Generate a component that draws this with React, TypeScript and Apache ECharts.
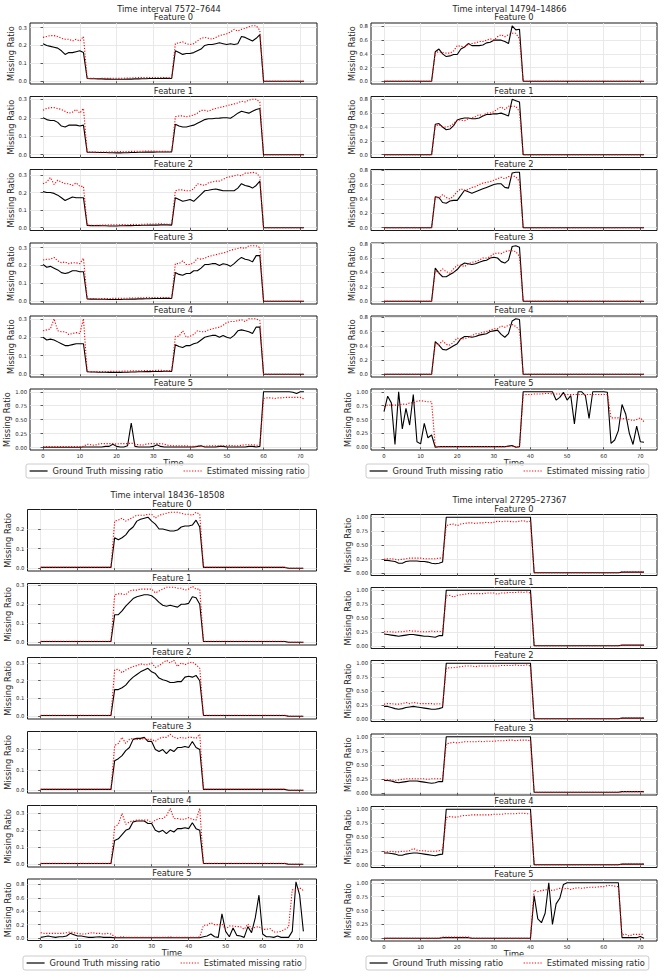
import { useEffect, useRef } from 'react';
import * as echarts from 'echarts';

// ---------- labels ----------
const intervalTitles = ['Time interval 7572–7644', 'Time interval 14794–14866', 'Time interval 18436–18508', 'Time interval 27295–27367'];
const featureTitles = ['Feature 0', 'Feature 1', 'Feature 2', 'Feature 3', 'Feature 4', 'Feature 5'];
const xTicks = [0, 10, 20, 30, 40, 50, 60, 70];
const GT_NAME = 'Ground Truth missing ratio';
const EST_NAME = 'Estimated missing ratio';

// ---------- Time interval 7572–7644 ----------
const tl_f0_gt = [
  0.21, 0.2, 0.195, 0.19, 0.185, 0.17, 0.15, 0.16, 0.16, 0.165, 0.17, 0.16,
  0.015, 0.014, 0.014, 0.013, 0.013, 0.012, 0.012, 0.011, 0.011, 0.011, 0.011, 0.012,
  0.012, 0.013, 0.013, 0.014, 0.014, 0.015, 0.015, 0.015, 0.015, 0.016, 0.016, 0.015,
  0.17, 0.16, 0.15, 0.155, 0.155, 0.16, 0.17, 0.18, 0.2, 0.205, 0.205, 0.21,
  0.215, 0.21, 0.205, 0.21, 0.205, 0.21, 0.25, 0.245, 0.235, 0.225, 0.24, 0.26,
  0, 0, 0, 0, 0, 0, 0, 0, 0, 0, 0, 0];
const tl_f0_est = [
  0.245, 0.25, 0.255, 0.255, 0.25, 0.24, 0.235, 0.235, 0.225, 0.235, 0.225, 0.25,
  0.017, 0.016, 0.016, 0.015, 0.016, 0.016, 0.016, 0.017, 0.017, 0.016, 0.017, 0.018,
  0.018, 0.019, 0.02, 0.02, 0.021, 0.021, 0.02, 0.021, 0.02, 0.02, 0.019, 0.018,
  0.21, 0.215, 0.22, 0.21, 0.205, 0.21, 0.225, 0.24, 0.245, 0.24, 0.235, 0.245,
  0.255, 0.26, 0.265, 0.275, 0.29, 0.28, 0.29, 0.295, 0.305, 0.31, 0.31, 0.285,
  0, 0, 0, 0, 0, 0, 0, 0, 0, 0, 0, 0];
const tl_f1_gt = [
  0.2, 0.19, 0.185, 0.185, 0.175, 0.155, 0.15, 0.16, 0.16, 0.16, 0.155, 0.16,
  0.014, 0.013, 0.013, 0.012, 0.012, 0.012, 0.011, 0.011, 0.01, 0.01, 0.011, 0.011,
  0.012, 0.012, 0.013, 0.013, 0.014, 0.014, 0.014, 0.015, 0.015, 0.015, 0.015, 0.015,
  0.165, 0.155, 0.15, 0.15, 0.155, 0.16, 0.17, 0.18, 0.19, 0.195, 0.195, 0.197,
  0.198, 0.2, 0.2, 0.197, 0.21, 0.225, 0.235, 0.23, 0.225, 0.235, 0.245, 0.25,
  0, 0, 0, 0, 0, 0, 0, 0, 0, 0, 0, 0];
const tl_f1_est = [
  0.24, 0.25, 0.255, 0.255, 0.25, 0.245, 0.235, 0.225, 0.23, 0.245, 0.225, 0.25,
  0.015, 0.015, 0.014, 0.014, 0.015, 0.015, 0.015, 0.016, 0.016, 0.017, 0.016, 0.017,
  0.018, 0.018, 0.019, 0.019, 0.02, 0.02, 0.02, 0.019, 0.019, 0.018, 0.018, 0.017,
  0.205, 0.21, 0.21, 0.205, 0.21, 0.215, 0.225, 0.24, 0.24, 0.235, 0.245, 0.25,
  0.255, 0.26, 0.265, 0.27, 0.275, 0.28, 0.29, 0.285, 0.295, 0.3, 0.3, 0.285,
  0, 0, 0, 0, 0, 0, 0, 0, 0, 0, 0, 0];
const tl_f2_gt = [
  0.205, 0.2, 0.2, 0.195, 0.185, 0.17, 0.155, 0.165, 0.175, 0.17, 0.17, 0.17,
  0.013, 0.012, 0.012, 0.012, 0.011, 0.011, 0.01, 0.01, 0.01, 0.011, 0.011, 0.012,
  0.012, 0.013, 0.013, 0.014, 0.014, 0.015, 0.015, 0.015, 0.016, 0.016, 0.016, 0.015,
  0.17, 0.16, 0.15, 0.155, 0.16, 0.15, 0.17, 0.19, 0.21, 0.213, 0.217, 0.22,
  0.215, 0.21, 0.21, 0.21, 0.21, 0.225, 0.25, 0.24, 0.235, 0.225, 0.24, 0.265,
  0, 0, 0, 0, 0, 0, 0, 0, 0, 0, 0, 0];
const tl_f2_est = [
  0.25, 0.26, 0.285, 0.245, 0.27, 0.26, 0.25, 0.25, 0.24, 0.255, 0.235, 0.235,
  0.016, 0.014, 0.013, 0.014, 0.015, 0.015, 0.016, 0.016, 0.017, 0.017, 0.018, 0.016,
  0.018, 0.019, 0.018, 0.02, 0.02, 0.021, 0.021, 0.022, 0.022, 0.021, 0.02, 0.02,
  0.21, 0.215, 0.215, 0.21, 0.21, 0.22, 0.25, 0.245, 0.24, 0.255, 0.26, 0.265,
  0.265, 0.275, 0.285, 0.29, 0.295, 0.3, 0.295, 0.31, 0.31, 0.315, 0.31, 0.29,
  0, 0, 0, 0, 0, 0, 0, 0, 0, 0, 0, 0];
const tl_f3_gt = [
  0.205, 0.19, 0.195, 0.185, 0.175, 0.16, 0.155, 0.16, 0.17, 0.17, 0.165, 0.165,
  0.013, 0.012, 0.012, 0.011, 0.011, 0.011, 0.01, 0.01, 0.01, 0.01, 0.011, 0.011,
  0.012, 0.012, 0.013, 0.013, 0.014, 0.014, 0.015, 0.015, 0.015, 0.016, 0.016, 0.015,
  0.16, 0.15, 0.145, 0.155, 0.155, 0.17, 0.17, 0.185, 0.205, 0.205, 0.21, 0.21,
  0.2, 0.21, 0.205, 0.195, 0.21, 0.23, 0.245, 0.235, 0.23, 0.22, 0.255, 0.255,
  0, 0, 0, 0, 0, 0, 0, 0, 0, 0, 0, 0];
const tl_f3_est = [
  0.23, 0.235, 0.235, 0.245, 0.225, 0.215, 0.22, 0.21, 0.215, 0.215, 0.21, 0.24,
  0.015, 0.014, 0.014, 0.014, 0.015, 0.015, 0.015, 0.016, 0.016, 0.016, 0.017, 0.017,
  0.018, 0.018, 0.019, 0.019, 0.02, 0.02, 0.021, 0.021, 0.021, 0.02, 0.02, 0.019,
  0.21, 0.21, 0.225, 0.205, 0.205, 0.215, 0.24, 0.235, 0.24, 0.25, 0.255, 0.26,
  0.265, 0.27, 0.275, 0.285, 0.29, 0.295, 0.3, 0.295, 0.31, 0.31, 0.31, 0.3,
  0, 0, 0, 0, 0, 0, 0, 0, 0, 0, 0, 0];
const tl_f4_gt = [
  0.2, 0.185, 0.19, 0.185, 0.175, 0.165, 0.155, 0.155, 0.16, 0.165, 0.165, 0.165,
  0.013, 0.012, 0.012, 0.011, 0.011, 0.011, 0.01, 0.01, 0.01, 0.01, 0.011, 0.011,
  0.012, 0.012, 0.013, 0.013, 0.014, 0.014, 0.015, 0.015, 0.015, 0.016, 0.016, 0.015,
  0.16, 0.15, 0.145, 0.155, 0.155, 0.165, 0.17, 0.185, 0.2, 0.205, 0.21, 0.21,
  0.2, 0.21, 0.2, 0.195, 0.21, 0.235, 0.24, 0.235, 0.23, 0.22, 0.255, 0.255,
  0, 0, 0, 0, 0, 0, 0, 0, 0, 0, 0, 0];
const tl_f4_est = [
  0.235, 0.24, 0.245, 0.3, 0.235, 0.23, 0.23, 0.215, 0.22, 0.225, 0.22, 0.3,
  0.015, 0.014, 0.014, 0.014, 0.015, 0.015, 0.015, 0.016, 0.016, 0.016, 0.017, 0.017,
  0.018, 0.018, 0.019, 0.019, 0.02, 0.02, 0.02, 0.021, 0.021, 0.02, 0.02, 0.019,
  0.205, 0.205, 0.235, 0.2, 0.205, 0.215, 0.235, 0.23, 0.23, 0.24, 0.245, 0.25,
  0.255, 0.265, 0.28, 0.285, 0.285, 0.29, 0.295, 0.285, 0.3, 0.3, 0.3, 0.29,
  0, 0, 0, 0, 0, 0, 0, 0, 0, 0, 0, 0];
const tl_f5_gt = [
  0.005, 0.005, 0.005, 0.005, 0.005, 0.005, 0.005, 0.005, 0.005, 0.005, 0.005, 0.01,
  0.01, 0.01, 0.01, 0.01, 0.01, 0.02, 0.02, 0.06, 0.02, 0.01, 0.01, 0.03,
  0.44, 0.02, 0.01, 0.01, 0.01, 0.01, 0.02, 0.05, 0.02, 0.01, 0.01, 0.01,
  0.01, 0.01, 0.01, 0.01, 0.01, 0.01, 0.02, 0.03, 0.01, 0.01, 0.01, 0.01,
  0.02, 0.02, 0.01, 0.01, 0.01, 0.01, 0.01, 0.01, 0.02, 0.02, 0.01, 0.02,
  1, 1, 1, 1, 1, 1, 1, 1, 0.99, 0.97, 1, 1];
const tl_f5_est = [
  0.015, 0.015, 0.015, 0.015, 0.015, 0.015, 0.015, 0.015, 0.015, 0.015, 0.015, 0.02,
  0.06, 0.05, 0.04, 0.06, 0.07, 0.07, 0.07, 0.07, 0.06, 0.07, 0.07, 0.07,
  0.08, 0.06, 0.05, 0.04, 0.06, 0.07, 0.07, 0.07, 0.07, 0.06, 0.04, 0.03,
  0.03, 0.03, 0.03, 0.03, 0.02, 0.02, 0.02, 0.03, 0.02, 0.03, 0.03, 0.03,
  0.03, 0.03, 0.03, 0.04, 0.03, 0.03, 0.04, 0.05, 0.05, 0.05, 0.04, 0.04,
  0.88, 0.89, 0.89, 0.88, 0.89, 0.89, 0.9, 0.9, 0.9, 0.9, 0.9, 0.87];

// ---------- Time interval 14794–14866 ----------
const tr_f0_gt = [
  0, 0, 0, 0, 0, 0, 0, 0, 0, 0, 0, 0,
  0, 0, 0.43, 0.47, 0.4, 0.36, 0.37, 0.39, 0.39, 0.47, 0.5, 0.55,
  0.52, 0.52, 0.52, 0.53, 0.56, 0.57, 0.6, 0.6, 0.6, 0.58, 0.55, 0.81,
  0.75, 0.76, 0, 0, 0, 0, 0, 0, 0, 0, 0, 0,
  0, 0, 0, 0, 0, 0, 0, 0, 0, 0, 0, 0,
  0, 0, 0, 0, 0, 0, 0, 0, 0, 0, 0, 0];
const tr_f0_est = [
  0, 0, 0, 0, 0, 0, 0, 0, 0, 0, 0, 0,
  0, 0, 0.42, 0.43, 0.42, 0.41, 0.41, 0.44, 0.52, 0.51, 0.5, 0.54,
  0.55, 0.56, 0.58, 0.58, 0.6, 0.62, 0.6, 0.65, 0.68, 0.65, 0.68, 0.7,
  0.7, 0.62, 0, 0, 0, 0, 0, 0, 0, 0, 0, 0,
  0, 0, 0, 0, 0, 0, 0, 0, 0, 0, 0, 0,
  0, 0, 0, 0, 0, 0, 0, 0, 0, 0, 0, 0];
const tr_f1_gt = [
  0, 0, 0, 0, 0, 0, 0, 0, 0, 0, 0, 0,
  0, 0, 0.44, 0.45, 0.4, 0.36, 0.37, 0.42, 0.5, 0.52, 0.53, 0.53,
  0.52, 0.52, 0.53, 0.56, 0.58, 0.58, 0.59, 0.59, 0.6, 0.58, 0.56, 0.8,
  0.78, 0.76, 0, 0, 0, 0, 0, 0, 0, 0, 0, 0,
  0, 0, 0, 0, 0, 0, 0, 0, 0, 0, 0, 0,
  0, 0, 0, 0, 0, 0, 0, 0, 0, 0, 0, 0];
const tr_f1_est = [
  0, 0, 0, 0, 0, 0, 0, 0, 0, 0, 0, 0,
  0, 0, 0.42, 0.43, 0.4, 0.4, 0.41, 0.45, 0.5, 0.5, 0.49, 0.52,
  0.53, 0.55, 0.58, 0.56, 0.6, 0.6, 0.62, 0.66, 0.69, 0.65, 0.7, 0.7,
  0.7, 0.62, 0, 0, 0, 0, 0, 0, 0, 0, 0, 0,
  0, 0, 0, 0, 0, 0, 0, 0, 0, 0, 0, 0,
  0, 0, 0, 0, 0, 0, 0, 0, 0, 0, 0, 0];
const tr_f2_gt = [
  0, 0, 0, 0, 0, 0, 0, 0, 0, 0, 0, 0,
  0, 0, 0.43, 0.42, 0.35, 0.34, 0.37, 0.38, 0.38, 0.45, 0.52, 0.5,
  0.48, 0.5, 0.52, 0.54, 0.56, 0.58, 0.6, 0.61, 0.61, 0.56, 0.55, 0.76,
  0.77, 0.77, 0, 0, 0, 0, 0, 0, 0, 0, 0, 0,
  0, 0, 0, 0, 0, 0, 0, 0, 0, 0, 0, 0,
  0, 0, 0, 0, 0, 0, 0, 0, 0, 0, 0, 0];
const tr_f2_est = [
  0, 0, 0, 0, 0, 0, 0, 0, 0, 0, 0, 0,
  0, 0, 0.43, 0.41, 0.46, 0.42, 0.4, 0.44, 0.5, 0.54, 0.52, 0.53,
  0.56, 0.57, 0.6, 0.62, 0.63, 0.64, 0.66, 0.68, 0.7, 0.68, 0.71, 0.72,
  0.71, 0.64, 0, 0, 0, 0, 0, 0, 0, 0, 0, 0,
  0, 0, 0, 0, 0, 0, 0, 0, 0, 0, 0, 0,
  0, 0, 0, 0, 0, 0, 0, 0, 0, 0, 0, 0];
const tr_f3_gt = [
  0, 0, 0, 0, 0, 0, 0, 0, 0, 0, 0, 0,
  0, 0, 0.46, 0.39, 0.34, 0.34, 0.37, 0.4, 0.44, 0.5, 0.53, 0.52,
  0.51, 0.52, 0.54, 0.56, 0.57, 0.6, 0.61, 0.6, 0.55, 0.53, 0.57, 0.76,
  0.77, 0.75, 0, 0, 0, 0, 0, 0, 0, 0, 0, 0,
  0, 0, 0, 0, 0, 0, 0, 0, 0, 0, 0, 0,
  0, 0, 0, 0, 0, 0, 0, 0, 0, 0, 0, 0];
const tr_f3_est = [
  0, 0, 0, 0, 0, 0, 0, 0, 0, 0, 0, 0,
  0, 0, 0.42, 0.4, 0.45, 0.41, 0.39, 0.45, 0.5, 0.5, 0.48, 0.52,
  0.54, 0.55, 0.57, 0.6, 0.6, 0.62, 0.66, 0.67, 0.66, 0.69, 0.7, 0.7,
  0.69, 0.62, 0, 0, 0, 0, 0, 0, 0, 0, 0, 0,
  0, 0, 0, 0, 0, 0, 0, 0, 0, 0, 0, 0,
  0, 0, 0, 0, 0, 0, 0, 0, 0, 0, 0, 0];
const tr_f4_gt = [
  0, 0, 0, 0, 0, 0, 0, 0, 0, 0, 0, 0,
  0, 0, 0.46, 0.41, 0.35, 0.34, 0.37, 0.4, 0.43, 0.5, 0.53, 0.53,
  0.52, 0.53, 0.55, 0.56, 0.57, 0.6, 0.61, 0.62, 0.56, 0.52, 0.57, 0.75,
  0.78, 0.77, 0, 0, 0, 0, 0, 0, 0, 0, 0, 0,
  0, 0, 0, 0, 0, 0, 0, 0, 0, 0, 0, 0,
  0, 0, 0, 0, 0, 0, 0, 0, 0, 0, 0, 0];
const tr_f4_est = [
  0, 0, 0, 0, 0, 0, 0, 0, 0, 0, 0, 0,
  0, 0, 0.43, 0.42, 0.47, 0.42, 0.41, 0.45, 0.51, 0.49, 0.5, 0.52,
  0.54, 0.57, 0.57, 0.59, 0.6, 0.62, 0.64, 0.64, 0.68, 0.66, 0.69, 0.7,
  0.67, 0.62, 0, 0, 0, 0, 0, 0, 0, 0, 0, 0,
  0, 0, 0, 0, 0, 0, 0, 0, 0, 0, 0, 0,
  0, 0, 0, 0, 0, 0, 0, 0, 0, 0, 0, 0];
const tr_f5_gt = [
  0.64, 0.92, 0.8, 0.05, 1, 0.33, 0.7, 0.4, 0.95, 0.1, 0.06, 0.43,
  0.17, 0.22, 0, 0.01, 0.01, 0.01, 0.01, 0.01, 0.01, 0.01, 0.01, 0.01,
  0.01, 0.01, 0.01, 0.01, 0.01, 0.01, 0.01, 0.01, 0.01, 0.01, 0.02, 0.03,
  0, 0.01, 1, 1, 1, 1, 1, 1, 1, 1, 1, 0.85,
  0.9, 0.99, 0.85, 0.93, 0.42, 1, 1, 0.93, 0.52, 1, 1, 1,
  1, 0.99, 0.07, 0.13, 0.3, 0.77, 0.6, 0.25, 0.05, 0.38, 0.1, 0.09];
const tr_f5_est = [
  0.73, 0.76, 0.76, 0.76, 0.76, 0.78, 0.77, 0.8, 0.8, 0.83, 0.84, 0.83,
  0.82, 0.82, 0.01, 0.01, 0.01, 0.01, 0.01, 0.01, 0.01, 0.01, 0.01, 0.01,
  0.01, 0.01, 0.01, 0.01, 0.01, 0.01, 0.01, 0.01, 0.01, 0.01, 0.02, 0.02,
  0.01, 0.01, 0.94, 0.95, 0.95, 0.96, 0.96, 0.96, 0.97, 0.97, 0.96, 0.96,
  0.96, 0.95, 0.95, 0.95, 0.95, 0.95, 0.95, 0.95, 0.95, 0.95, 0.95, 0.95,
  0.95, 0.95, 0.53, 0.53, 0.53, 0.51, 0.52, 0.5, 0.48, 0.5, 0.53, 0.46];

// ---------- Time interval 18436–18508 ----------
const bl_f0_gt = [
  0.004, 0.004, 0.004, 0.004, 0.004, 0.004, 0.004, 0.004, 0.004, 0.004, 0.004, 0.004,
  0.004, 0.004, 0.004, 0.004, 0.004, 0.004, 0.004, 0.004, 0.155, 0.145, 0.155, 0.17,
  0.195, 0.21, 0.24, 0.25, 0.255, 0.26, 0.24, 0.225, 0.2, 0.2, 0.195, 0.19,
  0.19, 0.195, 0.21, 0.215, 0.215, 0.22, 0.245, 0.21, 0.004, 0.004, 0.004, 0.004,
  0.004, 0.004, 0.004, 0.004, 0.004, 0.004, 0.004, 0.004, 0.004, 0.004, 0.004, 0.004,
  0.004, 0.004, 0.004, 0.004, 0.004, 0.004, 0.004, 0, 0, 0, 0, 0];
const bl_f0_est = [
  0.005, 0.005, 0.005, 0.005, 0.005, 0.005, 0.005, 0.005, 0.005, 0.005, 0.005, 0.005,
  0.005, 0.005, 0.005, 0.005, 0.005, 0.005, 0.005, 0.005, 0.24, 0.245, 0.255, 0.24,
  0.25, 0.26, 0.27, 0.27, 0.27, 0.275, 0.275, 0.255, 0.27, 0.275, 0.28, 0.285,
  0.285, 0.285, 0.28, 0.275, 0.275, 0.27, 0.285, 0.275, 0.005, 0.005, 0.005, 0.005,
  0.005, 0.005, 0.005, 0.005, 0.005, 0.005, 0.005, 0.005, 0.005, 0.005, 0.005, 0.005,
  0.005, 0.005, 0.005, 0.005, 0.005, 0.005, 0.005, 0, 0, 0, 0, 0];
const bl_f1_gt = [
  0.004, 0.004, 0.004, 0.004, 0.004, 0.004, 0.004, 0.004, 0.004, 0.004, 0.004, 0.004,
  0.004, 0.004, 0.004, 0.004, 0.004, 0.004, 0.004, 0.004, 0.145, 0.145, 0.165, 0.19,
  0.21, 0.23, 0.24, 0.245, 0.25, 0.25, 0.245, 0.23, 0.21, 0.195, 0.19, 0.195,
  0.19, 0.185, 0.2, 0.2, 0.205, 0.24, 0.235, 0.2, 0.004, 0.004, 0.004, 0.004,
  0.004, 0.004, 0.004, 0.004, 0.004, 0.004, 0.004, 0.004, 0.004, 0.004, 0.004, 0.004,
  0.004, 0.004, 0.004, 0.004, 0.004, 0.004, 0.004, 0, 0, 0, 0, 0];
const bl_f1_est = [
  0.005, 0.005, 0.005, 0.005, 0.005, 0.005, 0.005, 0.005, 0.005, 0.005, 0.005, 0.005,
  0.005, 0.005, 0.005, 0.005, 0.005, 0.005, 0.005, 0.005, 0.25, 0.255, 0.255, 0.25,
  0.27, 0.275, 0.275, 0.28, 0.28, 0.28, 0.28, 0.26, 0.27, 0.28, 0.29, 0.29,
  0.29, 0.285, 0.285, 0.275, 0.28, 0.295, 0.28, 0.28, 0.005, 0.005, 0.005, 0.005,
  0.005, 0.005, 0.005, 0.005, 0.005, 0.005, 0.005, 0.005, 0.005, 0.005, 0.005, 0.005,
  0.005, 0.005, 0.005, 0.005, 0.005, 0.005, 0.005, 0, 0, 0, 0, 0];
const bl_f2_gt = [
  0.004, 0.004, 0.004, 0.004, 0.004, 0.004, 0.004, 0.004, 0.004, 0.004, 0.004, 0.004,
  0.004, 0.004, 0.004, 0.004, 0.004, 0.004, 0.004, 0.004, 0.15, 0.15, 0.16, 0.175,
  0.2, 0.22, 0.235, 0.25, 0.26, 0.27, 0.25, 0.24, 0.215, 0.205, 0.2, 0.19,
  0.19, 0.195, 0.195, 0.22, 0.225, 0.22, 0.23, 0.2, 0.004, 0.004, 0.004, 0.004,
  0.004, 0.004, 0.004, 0.004, 0.004, 0.004, 0.004, 0.004, 0.004, 0.004, 0.004, 0.004,
  0.004, 0.004, 0.004, 0.004, 0.004, 0.004, 0.004, 0, 0, 0, 0, 0];
const bl_f2_est = [
  0.005, 0.005, 0.005, 0.005, 0.005, 0.005, 0.005, 0.005, 0.005, 0.005, 0.005, 0.005,
  0.005, 0.005, 0.005, 0.005, 0.005, 0.005, 0.005, 0.005, 0.26, 0.265, 0.245, 0.26,
  0.27, 0.28, 0.285, 0.295, 0.29, 0.29, 0.3, 0.275, 0.285, 0.3, 0.315, 0.3,
  0.315, 0.28, 0.3, 0.29, 0.3, 0.305, 0.29, 0.27, 0.005, 0.005, 0.005, 0.005,
  0.005, 0.005, 0.005, 0.005, 0.005, 0.005, 0.005, 0.005, 0.005, 0.005, 0.005, 0.005,
  0.005, 0.005, 0.005, 0.005, 0.005, 0.005, 0.005, 0, 0, 0, 0, 0];
const bl_f3_gt = [
  0.004, 0.004, 0.004, 0.004, 0.004, 0.004, 0.004, 0.004, 0.004, 0.004, 0.004, 0.004,
  0.004, 0.004, 0.004, 0.004, 0.004, 0.004, 0.004, 0.004, 0.145, 0.155, 0.17, 0.195,
  0.21, 0.25, 0.255, 0.255, 0.26, 0.24, 0.24, 0.2, 0.19, 0.2, 0.18, 0.2,
  0.19, 0.21, 0.21, 0.215, 0.21, 0.24, 0.21, 0.2, 0.004, 0.004, 0.004, 0.004,
  0.004, 0.004, 0.004, 0.004, 0.004, 0.004, 0.004, 0.004, 0.004, 0.004, 0.004, 0.004,
  0.004, 0.004, 0.004, 0.004, 0.004, 0.004, 0.004, 0, 0, 0, 0, 0];
const bl_f3_est = [
  0.005, 0.005, 0.005, 0.005, 0.005, 0.005, 0.005, 0.005, 0.005, 0.005, 0.005, 0.005,
  0.005, 0.005, 0.005, 0.005, 0.005, 0.005, 0.005, 0.005, 0.22, 0.23, 0.26, 0.23,
  0.25, 0.255, 0.25, 0.25, 0.255, 0.25, 0.25, 0.24, 0.255, 0.26, 0.26, 0.275,
  0.26, 0.255, 0.26, 0.255, 0.26, 0.26, 0.255, 0.275, 0.005, 0.005, 0.005, 0.005,
  0.005, 0.005, 0.005, 0.005, 0.005, 0.005, 0.005, 0.005, 0.005, 0.005, 0.005, 0.005,
  0.005, 0.005, 0.005, 0.005, 0.005, 0.005, 0.005, 0, 0, 0, 0, 0];
const bl_f4_gt = [
  0.004, 0.004, 0.004, 0.004, 0.004, 0.004, 0.004, 0.004, 0.004, 0.004, 0.004, 0.004,
  0.004, 0.004, 0.004, 0.004, 0.004, 0.004, 0.004, 0.004, 0.14, 0.15, 0.175, 0.2,
  0.21, 0.25, 0.255, 0.255, 0.255, 0.24, 0.24, 0.2, 0.19, 0.2, 0.18, 0.2,
  0.19, 0.21, 0.21, 0.215, 0.21, 0.245, 0.21, 0.2, 0.004, 0.004, 0.004, 0.004,
  0.004, 0.004, 0.004, 0.004, 0.004, 0.004, 0.004, 0.004, 0.004, 0.004, 0.004, 0.004,
  0.004, 0.004, 0.004, 0.004, 0.004, 0.004, 0.004, 0, 0, 0, 0, 0];
const bl_f4_est = [
  0.005, 0.005, 0.005, 0.005, 0.005, 0.005, 0.005, 0.005, 0.005, 0.005, 0.005, 0.005,
  0.005, 0.005, 0.005, 0.005, 0.005, 0.005, 0.005, 0.005, 0.22, 0.235, 0.3, 0.235,
  0.25, 0.255, 0.26, 0.26, 0.26, 0.26, 0.245, 0.26, 0.27, 0.27, 0.285, 0.33,
  0.27, 0.27, 0.265, 0.265, 0.275, 0.265, 0.26, 0.33, 0.005, 0.005, 0.005, 0.005,
  0.005, 0.005, 0.005, 0.005, 0.005, 0.005, 0.005, 0.005, 0.005, 0.005, 0.005, 0.005,
  0.005, 0.005, 0.005, 0.005, 0.005, 0.005, 0.005, 0, 0, 0, 0, 0];
const bl_f5_gt = [
  0.01, 0.02, 0.03, 0.02, 0.01, 0.02, 0.02, 0.03, 0.07, 0.05, 0.03, 0.03,
  0.02, 0.01, 0.01, 0.015, 0.02, 0.01, 0.01, 0.01, 0.005, 0.005, 0.005, 0.005,
  0.005, 0.005, 0.005, 0.005, 0.005, 0.005, 0.005, 0.005, 0.005, 0.005, 0.005, 0.005,
  0.005, 0.005, 0.005, 0.005, 0.005, 0.005, 0.005, 0.005, 0.02, 0.03, 0.06, 0.02,
  0.01, 0.36, 0.1, 0.02, 0.15, 0.04, 0.03, 0.01, 0.17, 0.08, 0.3, 0.64,
  0.06, 0.02, 0.02, 0.01, 0.03, 0.01, 0.01, 0.01, 0.1, 0.84, 0.64, 0.1];
const bl_f5_est = [
  0.08, 0.07, 0.07, 0.07, 0.07, 0.07, 0.07, 0.08, 0.09, 0.08, 0.07, 0.06,
  0.06, 0.07, 0.08, 0.07, 0.07, 0.06, 0.07, 0.06, 0.02, 0.01, 0.02, 0.01,
  0.01, 0.01, 0.01, 0.01, 0.01, 0.01, 0.01, 0.01, 0.01, 0.01, 0.01, 0.02,
  0.01, 0.01, 0.01, 0.01, 0.01, 0.01, 0.01, 0.02, 0.19, 0.19, 0.23, 0.2,
  0.2, 0.21, 0.13, 0.18, 0.18, 0.17, 0.17, 0.13, 0.21, 0.14, 0.16, 0.17,
  0.13, 0.13, 0.14, 0.09, 0.09, 0.1, 0.13, 0.16, 0.72, 0.72, 0.75, 0.71];

// ---------- Time interval 27295–27367 ----------
const br_f0_gt = [
  0.23, 0.23, 0.22, 0.21, 0.18, 0.18, 0.21, 0.22, 0.22, 0.22, 0.21, 0.21,
  0.2, 0.18, 0.17, 0.18, 0.2, 1, 1, 1, 1, 1, 1, 1,
  1, 1, 1, 1, 1, 1, 1, 1, 1, 1, 1, 1,
  1, 1, 1, 1, 1, 0.01, 0.01, 0.01, 0.01, 0.01, 0.01, 0.01,
  0.01, 0.01, 0.01, 0.01, 0.01, 0.01, 0.01, 0.01, 0.01, 0.01, 0.01, 0.01,
  0.01, 0.01, 0.01, 0.01, 0.01, 0.02, 0.02, 0.02, 0.02, 0.02, 0.02, 0.02];
const br_f0_est = [
  0.25, 0.26, 0.26, 0.25, 0.24, 0.25, 0.26, 0.27, 0.27, 0.27, 0.27, 0.26,
  0.26, 0.26, 0.26, 0.27, 0.27, 0.85, 0.87, 0.88, 0.85, 0.88, 0.89, 0.9,
  0.9, 0.89, 0.9, 0.9, 0.91, 0.9, 0.91, 0.93, 0.92, 0.93, 0.93, 0.92,
  0.92, 0.93, 0.94, 0.92, 0.93, 0.01, 0.01, 0.01, 0.01, 0.01, 0.01, 0.01,
  0.01, 0.01, 0.01, 0.01, 0.01, 0.01, 0.01, 0.01, 0.01, 0.01, 0.01, 0.01,
  0.01, 0.01, 0.01, 0.01, 0.01, 0.025, 0.025, 0.025, 0.025, 0.025, 0.025, 0.025];
const br_f1_gt = [
  0.22, 0.21, 0.2, 0.19, 0.18, 0.19, 0.2, 0.21, 0.21, 0.2, 0.19, 0.18,
  0.18, 0.17, 0.16, 0.19, 0.19, 1, 1, 1, 1, 1, 1, 1,
  1, 1, 1, 1, 1, 1, 1, 1, 1, 1, 1, 1,
  1, 1, 1, 1, 1, 0.01, 0.01, 0.01, 0.01, 0.01, 0.01, 0.01,
  0.01, 0.01, 0.01, 0.01, 0.01, 0.01, 0.01, 0.01, 0.01, 0.01, 0.01, 0.01,
  0.01, 0.01, 0.01, 0.01, 0.01, 0.02, 0.02, 0.02, 0.02, 0.02, 0.02, 0.02];
const br_f1_est = [
  0.26, 0.26, 0.26, 0.25, 0.26, 0.26, 0.27, 0.28, 0.27, 0.27, 0.26, 0.26,
  0.26, 0.27, 0.26, 0.27, 0.26, 0.9, 0.91, 0.88, 0.91, 0.92, 0.93, 0.94,
  0.94, 0.94, 0.94, 0.94, 0.95, 0.95, 0.95, 0.93, 0.95, 0.95, 0.96, 0.96,
  0.96, 0.97, 0.96, 0.97, 0.95, 0.01, 0.01, 0.01, 0.01, 0.01, 0.01, 0.01,
  0.01, 0.01, 0.01, 0.01, 0.01, 0.01, 0.01, 0.01, 0.01, 0.01, 0.01, 0.01,
  0.01, 0.01, 0.01, 0.01, 0.01, 0.015, 0.015, 0.015, 0.015, 0.015, 0.015, 0.015];
const br_f2_gt = [
  0.23, 0.23, 0.21, 0.19, 0.18, 0.19, 0.21, 0.22, 0.23, 0.22, 0.21, 0.2,
  0.19, 0.18, 0.18, 0.19, 0.21, 1, 1, 1, 1, 1, 1, 1,
  1, 1, 1, 1, 1, 1, 1, 1, 1, 1, 1, 1,
  1, 1, 1, 1, 1, 0.01, 0.01, 0.01, 0.01, 0.01, 0.01, 0.01,
  0.01, 0.01, 0.01, 0.01, 0.01, 0.01, 0.01, 0.01, 0.01, 0.01, 0.01, 0.01,
  0.01, 0.01, 0.01, 0.01, 0.01, 0.02, 0.02, 0.02, 0.02, 0.02, 0.02, 0.02];
const br_f2_est = [
  0.27, 0.28, 0.28, 0.27, 0.27, 0.28, 0.3, 0.28, 0.3, 0.29, 0.28, 0.28,
  0.28, 0.28, 0.27, 0.28, 0.26, 0.91, 0.92, 0.92, 0.93, 0.94, 0.95, 0.95,
  0.95, 0.94, 0.95, 0.95, 0.95, 0.95, 0.95, 0.95, 0.96, 0.96, 0.96, 0.96,
  0.97, 0.96, 0.96, 0.97, 0.95, 0.01, 0.01, 0.01, 0.01, 0.01, 0.01, 0.01,
  0.01, 0.01, 0.01, 0.01, 0.01, 0.01, 0.01, 0.01, 0.01, 0.01, 0.01, 0.01,
  0.01, 0.01, 0.01, 0.01, 0.01, 0.02, 0.02, 0.02, 0.02, 0.02, 0.02, 0.02];
const br_f3_gt = [
  0.22, 0.22, 0.21, 0.19, 0.18, 0.19, 0.2, 0.21, 0.21, 0.21, 0.2, 0.19,
  0.18, 0.17, 0.18, 0.2, 0.2, 1, 1, 1, 1, 1, 1, 1,
  1, 1, 1, 1, 1, 1, 1, 1, 1, 1, 1, 1,
  1, 1, 1, 1, 1, 0.01, 0.01, 0.01, 0.01, 0.01, 0.01, 0.01,
  0.01, 0.01, 0.01, 0.01, 0.01, 0.01, 0.01, 0.01, 0.01, 0.01, 0.01, 0.01,
  0.01, 0.01, 0.01, 0.01, 0.01, 0.02, 0.02, 0.02, 0.02, 0.02, 0.02, 0.02];
const br_f3_est = [
  0.23, 0.23, 0.23, 0.22, 0.23, 0.24, 0.25, 0.25, 0.25, 0.25, 0.25, 0.25,
  0.24, 0.25, 0.25, 0.25, 0.25, 0.87, 0.89, 0.9, 0.89, 0.9, 0.91, 0.91,
  0.91, 0.91, 0.92, 0.91, 0.92, 0.92, 0.92, 0.93, 0.93, 0.93, 0.94, 0.94,
  0.93, 0.94, 0.94, 0.94, 0.93, 0.01, 0.01, 0.01, 0.01, 0.01, 0.01, 0.01,
  0.01, 0.01, 0.01, 0.01, 0.01, 0.01, 0.01, 0.01, 0.01, 0.01, 0.01, 0.01,
  0.01, 0.01, 0.01, 0.01, 0.01, 0.02, 0.02, 0.02, 0.02, 0.02, 0.02, 0.02];
const br_f4_gt = [
  0.22, 0.22, 0.21, 0.2, 0.18, 0.18, 0.2, 0.21, 0.22, 0.22, 0.21, 0.2,
  0.19, 0.18, 0.17, 0.19, 0.2, 1, 1, 1, 1, 1, 1, 1,
  1, 1, 1, 1, 1, 1, 1, 1, 1, 1, 1, 1,
  1, 1, 1, 1, 1, 0.01, 0.01, 0.01, 0.01, 0.01, 0.01, 0.01,
  0.01, 0.01, 0.01, 0.01, 0.01, 0.01, 0.01, 0.01, 0.01, 0.01, 0.01, 0.01,
  0.01, 0.01, 0.01, 0.01, 0.01, 0.02, 0.02, 0.02, 0.02, 0.02, 0.02, 0.02];
const br_f4_est = [
  0.24, 0.24, 0.25, 0.24, 0.24, 0.25, 0.25, 0.26, 0.3, 0.27, 0.26, 0.26,
  0.25, 0.25, 0.25, 0.26, 0.28, 0.85, 0.87, 0.86, 0.86, 0.88, 0.89, 0.89,
  0.9, 0.9, 0.9, 0.9, 0.9, 0.9, 0.91, 0.91, 0.91, 0.92, 0.92, 0.92,
  0.92, 0.93, 0.93, 0.92, 0.92, 0.01, 0.01, 0.01, 0.01, 0.01, 0.01, 0.01,
  0.01, 0.01, 0.01, 0.01, 0.01, 0.01, 0.01, 0.01, 0.01, 0.01, 0.01, 0.01,
  0.01, 0.01, 0.01, 0.01, 0.01, 0.02, 0.02, 0.02, 0.02, 0.02, 0.02, 0.02];
const br_f5_gt = [
  0, 0, 0, 0, 0, 0, 0, 0, 0, 0, 0, 0,
  0, 0, 0, 0, 0.01, 0.01, 0.01, 0.01, 0.01, 0.01, 0.01, 0.01,
  0, 0, 0, 0, 0, 0, 0, 0, 0, 0, 0, 0,
  0, 0, 0, 0, 0, 0.77, 0.35, 0.28, 0.45, 1, 0.25, 0.62,
  0.72, 0.97, 1, 1, 1, 1, 1, 1, 1, 1, 1, 1,
  1, 1, 1, 1, 1, 0.01, 0.01, 0.01, 0.01, 0.01, 0.03, 0];
const br_f5_est = [
  0, 0, 0, 0, 0, 0, 0, 0, 0, 0, 0, 0,
  0, 0, 0, 0, 0.02, 0.02, 0.02, 0.02, 0.02, 0.02, 0.02, 0.02,
  0, 0, 0, 0, 0, 0, 0, 0, 0, 0, 0, 0,
  0, 0, 0, 0, 0, 0.87, 0.84, 0.86, 0.87, 0.88, 0.86, 0.88,
  0.9, 0.89, 0.9, 0.88, 0.9, 0.91, 0.9, 0.91, 0.92, 0.92, 0.92, 0.93,
  0.93, 0.95, 0.95, 0.94, 0.93, 0.06, 0.07, 0.04, 0.07, 0.07, 0.07, 0.07];

// ---------- layout table ----------
const panels = [
  {
    title: intervalTitles[0], gt: [tl_f0_gt, tl_f1_gt, tl_f2_gt, tl_f3_gt, tl_f4_gt, tl_f5_gt],
    est: [tl_f0_est, tl_f1_est, tl_f2_est, tl_f3_est, tl_f4_est, tl_f5_est],
    left: 30, width: 287, tops: [23, 96.5, 169.5, 243, 316, 389], h: 61, titleY: 9, legendLeft: 26, legendTop: 464,
  },
  {
    title: intervalTitles[1], gt: [tr_f0_gt, tr_f1_gt, tr_f2_gt, tr_f3_gt, tr_f4_gt, tr_f5_gt],
    est: [tr_f0_est, tr_f1_est, tr_f2_est, tr_f3_est, tr_f4_est, tr_f5_est],
    left: 371, width: 286, tops: [23, 96.5, 169.5, 243, 316, 389], h: 61, titleY: 9, legendLeft: 366, legendTop: 464,
  },
  {
    title: intervalTitles[2], gt: [bl_f0_gt, bl_f1_gt, bl_f2_gt, bl_f3_gt, bl_f4_gt, bl_f5_gt],
    est: [bl_f0_est, bl_f1_est, bl_f2_est, bl_f3_est, bl_f4_est, bl_f5_est],
    left: 27.5, width: 289, tops: [509.5, 583.5, 657.5, 731.5, 805.5, 879], h: 61.5, titleY: 495, legendLeft: 23, legendTop: 956,
  },
  {
    title: intervalTitles[3], gt: [br_f0_gt, br_f1_gt, br_f2_gt, br_f3_gt, br_f4_gt, br_f5_gt],
    est: [br_f0_est, br_f1_est, br_f2_est, br_f3_est, br_f4_est, br_f5_est],
    left: 371, width: 286, tops: [514.5, 587.5, 660.5, 734, 806.5, 880], h: 61, titleY: 500, legendLeft: 366, legendTop: 956,
  },
];

const FONT = 'DejaVu Sans';
const TXT = '#262626';
const GRIDLINE = '#e3e3e3';

function buildOption() {
  const grid: any[] = [];
  const xAxis: any[] = [];
  const yAxis: any[] = [];
  const series: any[] = [];
  const graphic: any[] = [];
  const legend: any[] = [];

  panels.forEach((p, pi) => {
    const cx = p.left + p.width / 2;
    graphic.push({
      type: 'text', x: cx - 4.5, y: p.titleY, silent: true,
      style: { text: p.title, fill: TXT, font: `8.3px "${FONT}"`, textAlign: 'center', textVerticalAlign: 'middle', align: 'center', verticalAlign: 'middle' },
    });
    legend.push({
      left: p.legendLeft, top: p.legendTop, orient: 'horizontal',
      data: [GT_NAME, EST_NAME], itemWidth: 18, itemHeight: 10, itemGap: 20,
      padding: [3, 4, 3, 3], backgroundColor: 'rgba(255,255,255,0.8)',
      borderColor: '#cccccc', borderWidth: 1, borderRadius: 2, selectedMode: false,
      itemStyle: { opacity: 0 },
      lineStyle: { width: 1.2 },
      textStyle: { fontSize: 8.3, color: TXT, fontFamily: FONT },
    });
    for (let f = 0; f < 6; f++) {
      const gi = pi * 6 + f;
      const gt = p.gt[f];
      const est = p.est[f];
      const all = gt.concat(est);
      const lo = Math.min(...all);
      const hi = Math.max(...all);
      const pad = (hi - lo) * 0.05;
      const ymin = lo - pad;
      const ymax = hi + pad;
      const span = ymax - ymin;
      const step = span <= 0.5 ? 0.1 : span <= 1.0 ? 0.2 : 0.25;
      const dec = step === 0.25 ? 2 : 1;
      const yTicks: number[] = [];
      for (let k = Math.ceil(ymin / step - 1e-9); k * step <= ymax + 1e-9; k++) {
        yTicks.push(Math.round(k * step * 10000) / 10000);
      }
      const isBottom = f === 5;

      grid.push({
        left: p.left, top: p.tops[f], width: p.width, height: p.h,
        show: true, borderColor: '#1a1a1a', borderWidth: 1, backgroundColor: 'transparent',
        containLabel: false, outerBoundsMode: 'none',
      });
      xAxis.push({
        type: 'value', gridIndex: gi, min: -3.55, max: 74.55, splitNumber: 8,
        axisLine: { show: false },
        axisTick: { show: true, length: 2.5, inside: false, customValues: xTicks, lineStyle: { color: '#333', width: 0.8 } },
        axisLabel: { show: isBottom, customValues: xTicks, fontSize: 5.3, margin: 3, color: TXT, fontFamily: FONT },
        splitLine: { show: true, lineStyle: { color: GRIDLINE, width: 0.8 } },
        name: isBottom ? 'Time' : '', nameLocation: 'middle', nameGap: 7.5,
        nameTextStyle: { fontSize: 8.3, color: TXT, fontFamily: FONT },
      });
      yAxis.push({
        type: 'value', gridIndex: gi, min: ymin, max: ymax,
        axisLine: { show: false },
        axisTick: { show: true, length: 2.5, inside: false, customValues: yTicks, lineStyle: { color: '#333', width: 0.8 } },
        axisLabel: {
          show: true, customValues: yTicks, fontSize: 5.3, margin: 3, color: TXT, fontFamily: FONT,
          formatter: (v: number) => v.toFixed(dec),
        },
        splitLine: { show: true, lineStyle: { color: GRIDLINE, width: 0.8 } },
        name: 'Missing Ratio', nameLocation: 'middle', nameGap: dec === 2 ? 16 : 13,
        nameTextStyle: { fontSize: 8.3, color: TXT, fontFamily: FONT },
      });
      series.push({
        type: 'line', name: GT_NAME, xAxisIndex: gi, yAxisIndex: gi,
        data: gt.map((v, i) => [i, v]), symbol: 'none', showSymbol: false, silent: true,
        lineStyle: { color: '#000000', width: 1.1 }, itemStyle: { color: '#000000' }, z: 2,
      });
      series.push({
        type: 'line', name: EST_NAME, xAxisIndex: gi, yAxisIndex: gi,
        data: est.map((v, i) => [i, v]), symbol: 'none', showSymbol: false, silent: true,
        lineStyle: { color: '#ff0000', width: 1.1, type: [1.2, 1.6] }, itemStyle: { color: '#ff0000' }, z: 3,
      });
      graphic.push({
        type: 'text', x: cx, y: p.tops[f] - 5.6, silent: true,
        style: { text: featureTitles[f], fill: TXT, font: `8.3px "${FONT}"`, textAlign: 'center', textVerticalAlign: 'middle', align: 'center', verticalAlign: 'middle' },
      });
    }
  });

  return {
    animation: false,
    backgroundColor: '#ffffff',
    textStyle: { fontFamily: FONT },
    grid, xAxis, yAxis, series, graphic, legend,
  };
}

export default function App() {
  const ref = useRef<HTMLDivElement>(null);
  useEffect(() => {
    if (!ref.current) return;
    const chart = echarts.init(ref.current, null, { renderer: 'svg' });
    chart.setOption(buildOption() as any);
    return () => chart.dispose();
  }, []);
  return (
    <div
      ref={ref}
      style={{ position: 'absolute', left: 0, top: 0, width: 665, height: 978, background: '#ffffff' }}
    />
  );
}
